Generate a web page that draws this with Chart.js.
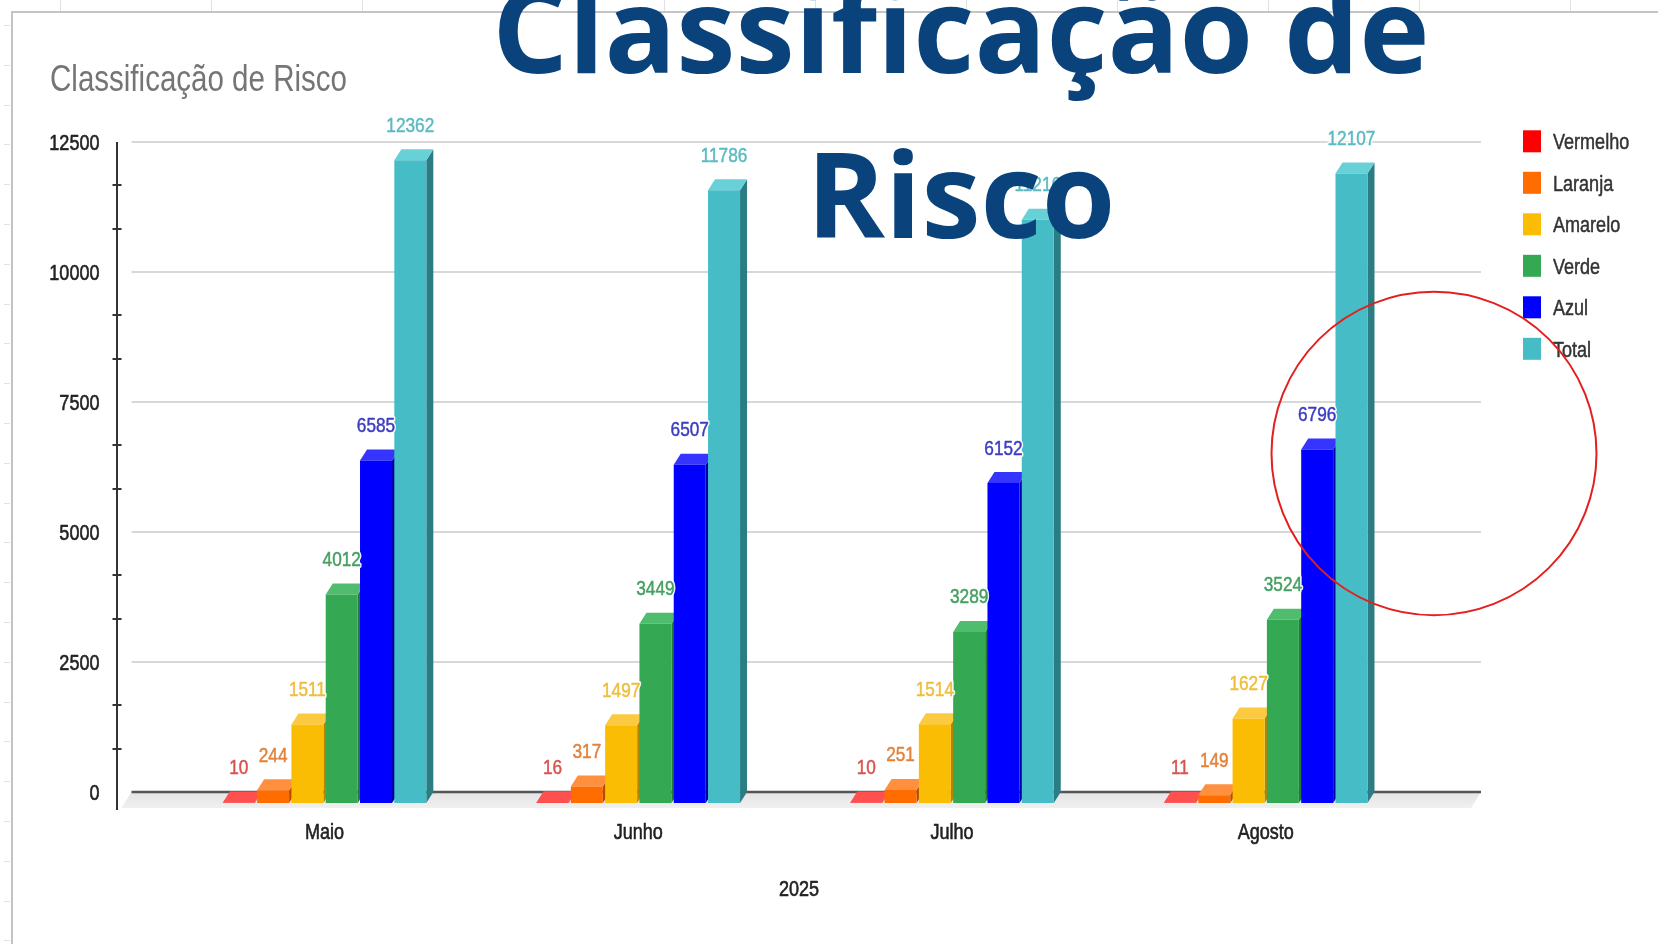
<!DOCTYPE html>
<html><head><meta charset="utf-8">
<script src="https://cdn.jsdelivr.net/npm/chart.js@4.4.1/dist/chart.umd.min.js"></script>
<style>html,body{margin:0;padding:0;background:#fff;overflow:hidden}canvas{display:block}</style>
</head><body>
<canvas id="c" width="1658" height="944"></canvas>
<script>
// ---------- data ----------
const categories = ['Maio', 'Junho', 'Julho', 'Agosto'];
const seriesNames = ['Vermelho', 'Laranja', 'Amarelo', 'Verde', 'Azul', 'Total'];
const vermelho = [10, 16, 10, 11];
const laranja = [244, 317, 251, 149];
const amarelo = [1511, 1497, 1514, 1627];
const verde = [4012, 3449, 3289, 3524];
const azul = [6585, 6507, 6152, 6796];
const total = [12362, 11786, 11216, 12107];
const yTicks = [0, 2500, 5000, 7500, 10000, 12500];
const xTitle = '2025';
const chartTitle = 'Classificação de Risco';
const bannerLines = ['Classificação de', 'Risco'];

// ---------- styles ----------
const seriesValues = [vermelho, laranja, amarelo, verde, azul, total];
const frontColors = ['#ff2020', '#ff6d01', '#fbbc04', '#34a853', '#0000ff', '#46bdc6'];
const topColors   = ['#ff5050', '#ff9040', '#fcca40', '#4fbd6d', '#3535ff', '#68d0d7'];
const sideColors  = ['#b80000', '#b34c00', '#b38600', '#237a3a', '#0000a8', '#2b7d84'];
const labelColors = ['#d9534f', '#e3823a', '#efbd3c', '#46a062', '#3d3dc2', '#5cbac2'];
const legendColors = ['#ff0000', '#ff6d01', '#fbbc04', '#34a853', '#0000ff', '#46bdc6'];
const SANS = '"Liberation Sans", Arial, sans-serif';
const SQUEEZE = 0.82;
const DX = 7, DY = 11;
const GX0 = 131.5, GX1 = 1481;

// condensed text helper (reference text is horizontally narrow)
function narrowText(ctx, text, x, y, size, color, align, halo, weight) {
  ctx.save();
  ctx.translate(x, y);
  ctx.scale(SQUEEZE, 1);
  ctx.font = size + 'px ' + SANS;
  ctx.textAlign = align; ctx.textBaseline = 'alphabetic';
  ctx.lineJoin = 'round';
  if (halo) {
    ctx.strokeStyle = 'rgba(255,255,255,0.9)'; ctx.lineWidth = 4;
    ctx.strokeText(text, 0, 0);
  }
  ctx.fillStyle = color;
  ctx.fillText(text, 0, 0);
  if (weight) {
    ctx.strokeStyle = color; ctx.lineWidth = weight;
    ctx.strokeText(text, 0, 0);
  }
  ctx.restore();
}

const threeD = {
  id: 'threeD',
  beforeDatasetsDraw(chart) {
    const ctx = chart.ctx, y = chart.scales.y;
    ctx.save();
    ctx.lineWidth = 2; ctx.strokeStyle = '#d8d8d8';
    yTicks.forEach(v => {
      if (v === 0) return;
      const py = Math.round(y.getPixelForValue(v));
      ctx.beginPath(); ctx.moveTo(GX0, py); ctx.lineTo(GX1, py); ctx.stroke();
    });
    const y0 = y.getPixelForValue(0);
    const g = ctx.createLinearGradient(0, y0, 0, y0 + DY + 5);
    g.addColorStop(0, '#e4e4e4'); g.addColorStop(1, '#f0f0f0');
    ctx.fillStyle = g;
    ctx.beginPath();
    ctx.moveTo(GX0, y0); ctx.lineTo(GX1, y0);
    ctx.lineTo(GX1 - DX - 3, y0 + DY + 5); ctx.lineTo(GX0 - DX - 3, y0 + DY + 5);
    ctx.closePath(); ctx.fill();
    ctx.strokeStyle = '#555'; ctx.lineWidth = 2.5;
    ctx.beginPath(); ctx.moveTo(GX0, y0); ctx.lineTo(GX1, y0); ctx.stroke();
    const n = chart.data.datasets.length;
    for (let c = 0; c < categories.length; c++) {
      for (let d = 0; d < n; d++) {
        const el = chart.getDatasetMeta(d).data[c];
        const p = el.getProps(['x', 'y', 'base', 'width'], true);
        const xl = p.x - p.width / 2, xr = p.x + p.width / 2, yt = p.y, b = p.base;
        ctx.fillStyle = sideColors[d];
        ctx.beginPath();
        ctx.moveTo(xr, yt + DY); ctx.lineTo(xr + DX, yt); ctx.lineTo(xr + DX, b); ctx.lineTo(xr, b + DY);
        ctx.closePath(); ctx.fill();
        ctx.fillStyle = topColors[d];
        ctx.beginPath();
        ctx.moveTo(xl, yt + DY); ctx.lineTo(xl + DX, yt); ctx.lineTo(xr + DX, yt); ctx.lineTo(xr, yt + DY);
        ctx.closePath(); ctx.fill();
      }
    }
    ctx.restore();
    ctx.save();
    ctx.translate(0, DY);
  },
  afterDatasetsDraw(chart) {
    const ctx = chart.ctx;
    ctx.restore();
    chart.data.datasets.forEach((ds, d) => {
      chart.getDatasetMeta(d).data.forEach((el, i) => {
        narrowText(ctx, String(ds.data[i]), el.x, el.y - 17.5, 21, labelColors[d], 'center', true, 0.5);
      });
    });
  },
  afterDraw(chart) {
    const ctx = chart.ctx, y = chart.scales.y, x = chart.scales.x;
    ctx.save();
    // outer frame
    ctx.strokeStyle = '#c4c4c4'; ctx.lineWidth = 2;
    ctx.beginPath(); ctx.moveTo(12, 944); ctx.lineTo(12, 12); ctx.lineTo(1658, 12); ctx.stroke();
    ctx.strokeStyle = '#e2e2e2'; ctx.lineWidth = 1;
    for (let gx = 60; gx < 1658; gx += 151) { ctx.beginPath(); ctx.moveTo(gx + 0.5, 0); ctx.lineTo(gx + 0.5, 11); ctx.stroke(); }
    for (let gy = 25; gy < 944; gy += 39.8) { ctx.beginPath(); ctx.moveTo(4, Math.round(gy) + 0.5); ctx.lineTo(10, Math.round(gy) + 0.5); ctx.stroke(); }
    // vertical axis line with minor ticks
    ctx.strokeStyle = '#333'; ctx.lineWidth = 2;
    ctx.beginPath(); ctx.moveTo(117, y.getPixelForValue(12500)); ctx.lineTo(117, 810); ctx.stroke();
    for (let k = 1; k < 15; k++) {
      if (k % 3 === 0) continue;
      const py = Math.round(y.getPixelForValue(k * 2500 / 3));
      ctx.beginPath(); ctx.moveTo(112.5, py); ctx.lineTo(121.5, py); ctx.stroke();
    }
    ctx.restore();
    // y tick labels
    yTicks.forEach(v => narrowText(ctx, String(v), 99.5, y.getPixelForValue(v) + 7.5, 22, '#222', 'right', false, 0.6));
    // x tick labels
    categories.forEach((c, i) => narrowText(ctx, c, x.getPixelForValue(i), 839, 22, '#222', 'center', false, 0.6));
    // x title
    narrowText(ctx, xTitle, 799, 896, 22, '#222', 'center', false, 0.6);
    // inner title
    narrowText(ctx, chartTitle, 50, 91, 36, '#757575', 'left');
    // legend
    seriesNames.forEach((name, i) => {
      const cy = 141.3 + i * 41.5;
      ctx.fillStyle = legendColors[i];
      ctx.fillRect(1523, cy - 11, 18, 22);
      narrowText(ctx, name, 1553, cy + 8, 22, '#333', 'left', false, 0.5);
    });
    ctx.save();
    // red circle
    ctx.strokeStyle = '#e3201f'; ctx.lineWidth = 2;
    ctx.beginPath(); ctx.ellipse(1434, 453.5, 162.5, 161.7, 0, 0, Math.PI * 2); ctx.stroke();
    // banner title
    ctx.font = 'bold 119px "Open Sans", "Noto Sans", sans-serif';
    ctx.fillStyle = '#0a437c'; ctx.textAlign = 'center'; ctx.textBaseline = 'alphabetic';
    ctx.fillText(bannerLines[0], 961, 73);
    ctx.fillText(bannerLines[1], 961, 238);
    ctx.restore();
  }
};

new Chart(document.getElementById('c'), {
  type: 'bar',
  data: {
    labels: categories,
    datasets: seriesNames.map((name, i) => ({
      label: name,
      data: seriesValues[i],
      backgroundColor: frontColors[i],
      borderWidth: 0,
      clip: false,
      categoryPercentage: 0.656,
      barPercentage: 0.933
    }))
  },
  options: {
    responsive: false,
    animation: false,
    devicePixelRatio: 1,
    layout: { padding: { left: 0, right: 235.4, top: 142, bottom: 42 } },
    plugins: { legend: { display: false }, title: { display: false }, tooltip: { enabled: false } },
    scales: {
      x: {
        grid: { display: false, drawTicks: false },
        border: { display: false },
        ticks: { display: false },
        afterFit(s) { s.height = 110; }
      },
      y: {
        min: 0, max: 12500,
        afterBuildTicks(s) { s.ticks = yTicks.map(v => ({ value: v })); },
        grid: { display: false, drawTicks: false },
        border: { display: false },
        ticks: { display: false },
        afterFit(s) { s.width = 167.7; }
      }
    }
  },
  plugins: [threeD]
});
</script>
</body></html>
